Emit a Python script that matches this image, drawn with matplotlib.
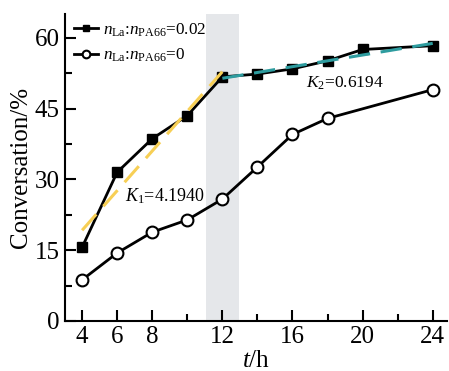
import matplotlib
matplotlib.use('Agg')
import matplotlib.pyplot as plt

plt.rcParams['font.family'] = ['Liberation Serif', 'DejaVu Serif']
plt.rcParams['mathtext.fontset'] = 'custom'
plt.rcParams['mathtext.rm'] = 'Liberation Serif'
plt.rcParams['mathtext.it'] = 'Liberation Serif:italic'

# data
t_la = [4, 6, 8, 10, 12, 14, 16, 18, 20, 24]
conv_la = [15.6, 31.5, 38.6, 43.5, 51.7, 52.3, 53.4, 55.1, 57.5, 58.3]
t_ref = [4, 6, 8, 10, 12, 14, 16, 18, 24]
conv_ref = [8.7, 14.4, 18.8, 21.4, 25.8, 32.6, 39.5, 42.9, 49.0]
fit1_t = [4, 12]
fit1_y = [19.2, 52.8]
fit2_t = [12, 24]
fit2_y = [51.4, 58.8]
lab_la = r'$n_{\rm La}$:$n_{\rm PA66}$=0.02'
lab_ref = r'$n_{\rm La}$:$n_{\rm PA66}$=0'

fig = plt.figure(figsize=(4.49, 3.71), dpi=100)
ax = fig.add_axes([0.145, 0.135, 0.85, 0.827])

ax.axvspan(11.05, 12.95, color='#e5e7ea', zorder=0, lw=0)
ax.plot(t_la, conv_la, '-s', color='black', lw=2, ms=7.5, mfc='black', label=lab_la, zorder=3)
ax.plot(t_ref, conv_ref, '-o', color='black', lw=2, ms=8.5, mfc='white', mew=1.5, label=lab_ref, zorder=3)
ax.plot(fit1_t, fit1_y, '--', color='#f7cf55', lw=2.2, dashes=(7, 3.5), zorder=4)
ax.plot(fit2_t, fit2_y, '--', color='#2e9c9f', lw=2.2, dashes=(7, 3.5), zorder=4)

ax.text(6.45, 26.4, r'$K_1$=4.1940', fontsize=13, va='center')
ax.text(16.75, 50.3, r'$K_2$=0.6194', fontsize=12.5, va='center')

ax.set_xlim(3.03, 24.8)
ax.set_ylim(0, 65)
ax.set_xticks([4, 6, 8, 12, 16, 20, 24])
ax.set_xticks([10, 14, 18, 22], minor=True)
ax.set_yticks([0, 15, 30, 45, 60])
ax.set_yticks([7.5, 22.5, 37.5, 52.5], minor=True)
ax.tick_params(direction='in', which='major', length=8, width=1.5, labelsize=18, pad=4)
ax.tick_params(direction='in', which='minor', length=5, width=1.5)
for s in ['top', 'right']:
    ax.spines[s].set_visible(False)
for s in ['left', 'bottom']:
    ax.spines[s].set_linewidth(1.5)

ax.set_xlabel(r'$t$/h', fontsize=18, labelpad=1)
ax.set_ylabel('Conversation/%', fontsize=18, labelpad=2)

ax.legend(loc='upper left', fontsize=12.3, frameon=False, handlelength=1.4, markerscale=0.65,
          handletextpad=0.3, borderaxespad=0.1, labelspacing=0.5, bbox_to_anchor=(0.0, 1.005))

fig.savefig('out.png', dpi=100)
